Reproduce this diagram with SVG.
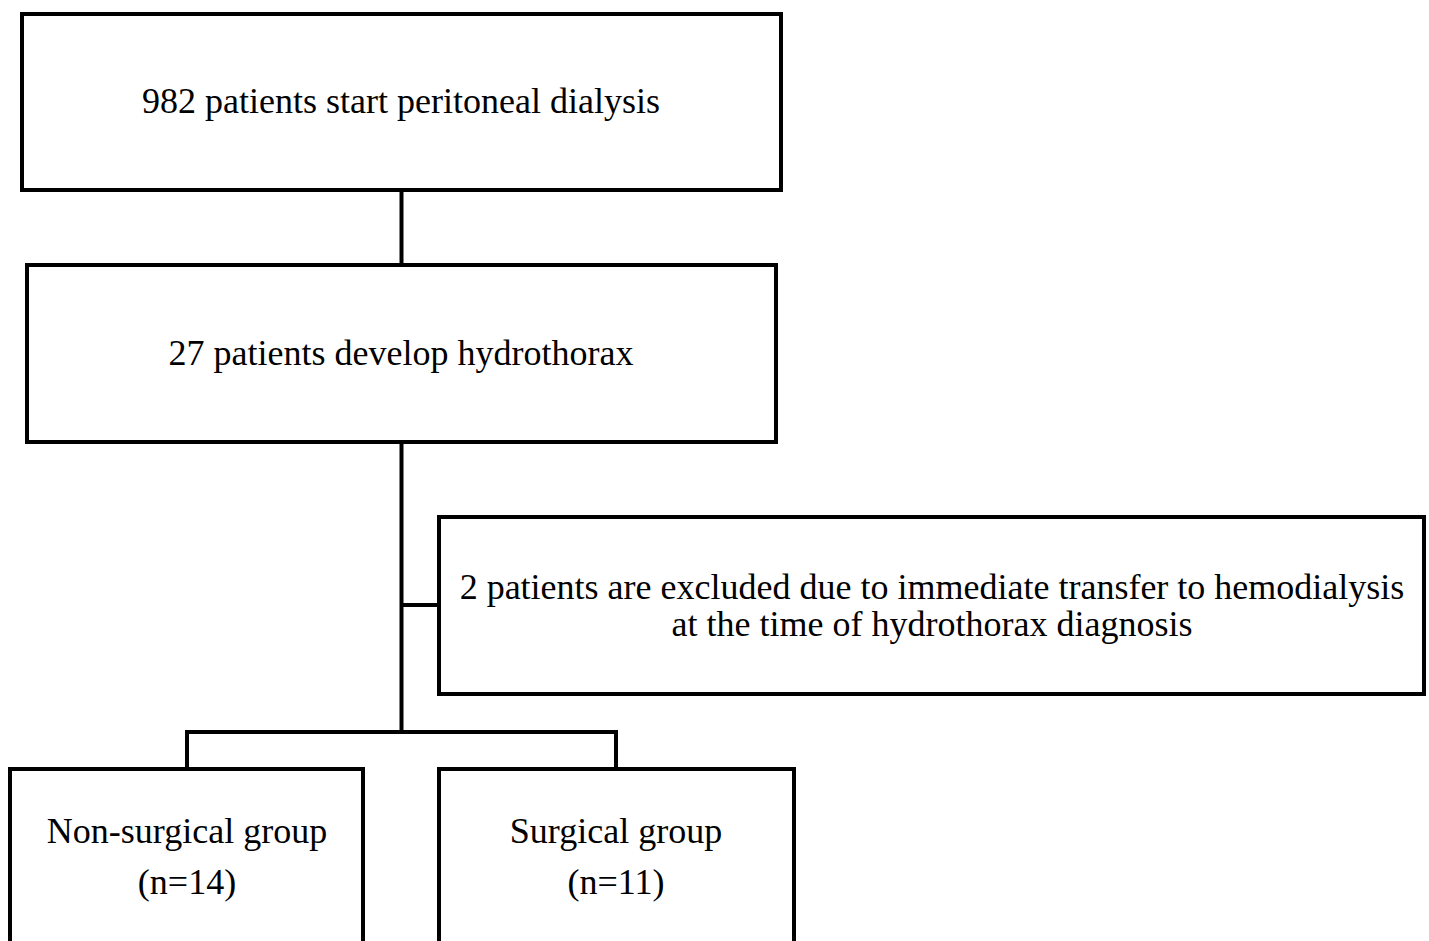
<svg xmlns="http://www.w3.org/2000/svg" width="1429" height="941" viewBox="0 0 1429 941">
<style>
.box{fill:#ffffff;stroke:#000000;stroke-width:4}
.ln{fill:none;stroke:#000000;stroke-width:4}
text{font-family:"Liberation Serif","Times New Roman",serif;font-size:36px;fill:#000000;text-anchor:middle}
</style>
<rect width="1429" height="941" fill="#ffffff"/>
<g id="connectors">
<line class="ln" x1="401.5" y1="190" x2="401.5" y2="265"/>
<line class="ln" x1="401.5" y1="442" x2="401.5" y2="732"/>
<line class="ln" x1="401.5" y1="605" x2="439" y2="605"/>
<polyline class="ln" points="187,769 187,732 616,732 616,769"/>
</g>
<g id="node1">
<rect class="box" x="22" y="14" width="759" height="176"/>
<text x="401" y="113">982 patients start peritoneal dialysis</text>
</g>
<g id="node2">
<rect class="box" x="27" y="265" width="749" height="177"/>
<text x="401" y="365">27 patients develop hydrothorax</text>
</g>
<g id="node3">
<rect class="box" x="439" y="517" width="985" height="177"/>
<text x="932" y="599">2 patients are excluded due to immediate transfer to hemodialysis</text>
<text x="932" y="636">at the time of hydrothorax diagnosis</text>
</g>
<g id="node4">
<rect class="box" x="10" y="769" width="353" height="240"/>
<text x="187" y="843">Non-surgical group</text>
<text x="187" y="894">(n=14)</text>
</g>
<g id="node5">
<rect class="box" x="439" y="769" width="355" height="240"/>
<text x="616" y="843">Surgical group</text>
<text x="616" y="894">(n=11)</text>
</g>
</svg>
